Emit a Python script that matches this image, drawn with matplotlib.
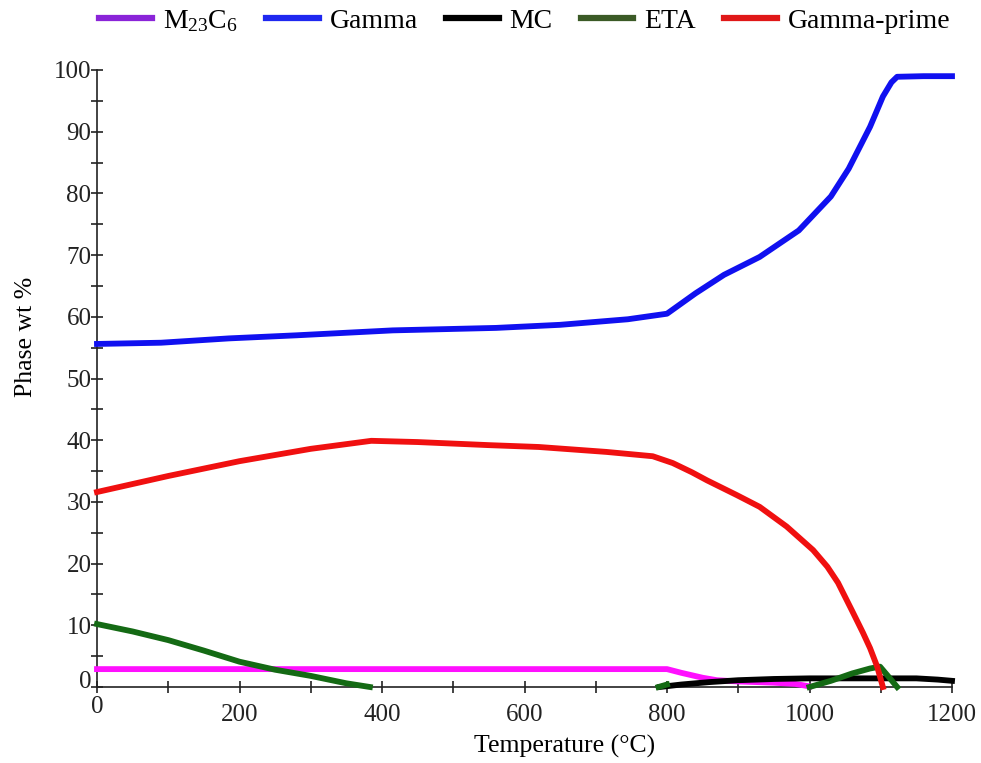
import numpy as np
import matplotlib
matplotlib.use("Agg")
import matplotlib.pyplot as plt
from matplotlib.lines import Line2D
from matplotlib.ticker import MultipleLocator
from matplotlib.transforms import ScaledTranslation

plt.rcParams['font.family'] = ['Liberation Serif', 'DejaVu Serif']
plt.rcParams['mathtext.fontset'] = 'custom'
plt.rcParams['mathtext.rm'] = 'Liberation Serif'
plt.rcParams['mathtext.it'] = 'Liberation Serif:italic'
plt.rcParams['mathtext.bf'] = 'Liberation Serif:bold'

# ---- data ----
gamma_T = [0, 90, 185, 280, 415, 560, 650, 745, 800, 840, 880, 930, 985, 1030, 1055, 1085, 1103, 1115, 1123, 1160, 1200]
gamma_W = [55.6, 55.8, 56.5, 57.0, 57.8, 58.2, 58.7, 59.6, 60.5, 63.8, 66.8, 69.7, 74.0, 79.5, 84.0, 90.8, 95.7, 98.0, 98.9, 99.0, 99.0]

gp_T = [0, 100, 200, 300, 385, 450, 550, 620, 715, 780, 808, 835, 856, 898, 930, 968, 1005, 1025, 1040, 1060, 1075, 1085, 1095, 1103]
gp_W = [31.6, 34.2, 36.6, 38.6, 39.9, 39.7, 39.2, 38.9, 38.1, 37.4, 36.3, 34.8, 33.5, 31.1, 29.2, 26.0, 22.2, 19.5, 16.9, 12.3, 8.8, 6.3, 3.3, 0.0]

m23_T = [0, 800, 820, 850, 870, 900, 950, 980, 1000]
m23_W = [2.9, 2.9, 2.3, 1.5, 1.1, 0.9, 0.7, 0.5, 0.1]

mc_T = [790, 820, 860, 900, 950, 1000, 1100, 1150, 1180, 1200]
mc_W = [0.0, 0.4, 0.8, 1.1, 1.3, 1.4, 1.4, 1.4, 1.2, 1.0]

eta_T = [0, 50, 100, 150, 200, 250, 300, 350, 383, np.nan, 788, 800, np.nan, 1000, 1030, 1060, 1085, 1099, 1110, 1123]
eta_W = [10.2, 9.0, 7.6, 5.9, 4.1, 2.8, 1.8, 0.6, 0.0, np.nan, 0.0, 0.4, np.nan, 0.0, 1.0, 2.2, 3.0, 3.3, 1.8, 0.0]

legend_labels = [r'M$_{23}$C$_6$', 'Gamma', 'MC', 'ETA', 'Gamma-prime']
legend_colors = ['#8a24d8', '#1f28f0', '#000000', '#3b5a26', '#e01818']

x_ticks = [0, 200, 400, 600, 800, 1000, 1200]
y_ticks = [0, 10, 20, 30, 40, 50, 60, 70, 80, 90, 100]

# ---- figure ----
fig = plt.figure(figsize=(9.81, 7.63), dpi=100)
ax = fig.add_axes([97/981, 1-687/763, 855/981, 617/763])

lw = 4.2
ax.plot(m23_T, m23_W, color='#ff10ff', lw=lw, clip_on=False, zorder=3)
ax.plot(gamma_T, gamma_W, color='#1010f0', lw=lw, clip_on=False, zorder=3)
ax.plot(mc_T, mc_W, color='#000000', lw=lw, clip_on=False, zorder=3)
ax.plot(eta_T, eta_W, color='#146a14', lw=lw, clip_on=False, zorder=4)
ax.plot(gp_T, gp_W, color='#f01010', lw=lw, clip_on=False, zorder=5)

ax.set_xlim(0, 1200)
ax.set_ylim(0, 100)
ax.set_xticks(x_ticks)
ax.set_yticks(y_ticks)
ax.xaxis.set_minor_locator(MultipleLocator(100))
ax.yaxis.set_minor_locator(MultipleLocator(5))
ax.tick_params(which='both', direction='inout', length=8, width=1.2, labelsize=18, colors='#222222')
ax.tick_params(axis='x', pad=8)
ax.tick_params(axis='y', pad=0)
for s in ['top', 'right']:
    ax.spines[s].set_visible(False)
for s in ['left', 'bottom']:
    ax.spines[s].set_linewidth(1.2)
    ax.spines[s].set_color('#222222')

# the "0" labels sit higher in the reference
fig.canvas.draw()
xl0 = ax.get_xticklabels()[0]
xl0.set_transform(xl0.get_transform() + ScaledTranslation(0, 8/100, fig.dpi_scale_trans))
yl0 = ax.get_yticklabels()[0]
yl0.set_transform(yl0.get_transform() + ScaledTranslation(0, 7/100, fig.dpi_scale_trans))

ax.set_xlabel('Temperature (°C)', fontsize=18.5)
ax.xaxis.set_label_coords(0.547, -0.078)
ax.set_ylabel('Phase wt %', fontsize=18.5)
ax.yaxis.set_label_coords(-0.07, 0.567)

handles = [Line2D([0], [0], color=c, lw=4.5) for c in legend_colors]
fig.legend(handles, legend_labels, loc='upper center', bbox_to_anchor=(0.535, 1.022), ncol=5,
           frameon=False, fontsize=20, handlelength=1.9, handletextpad=0.4, columnspacing=1.0)

fig.savefig('out.png', dpi=100)
